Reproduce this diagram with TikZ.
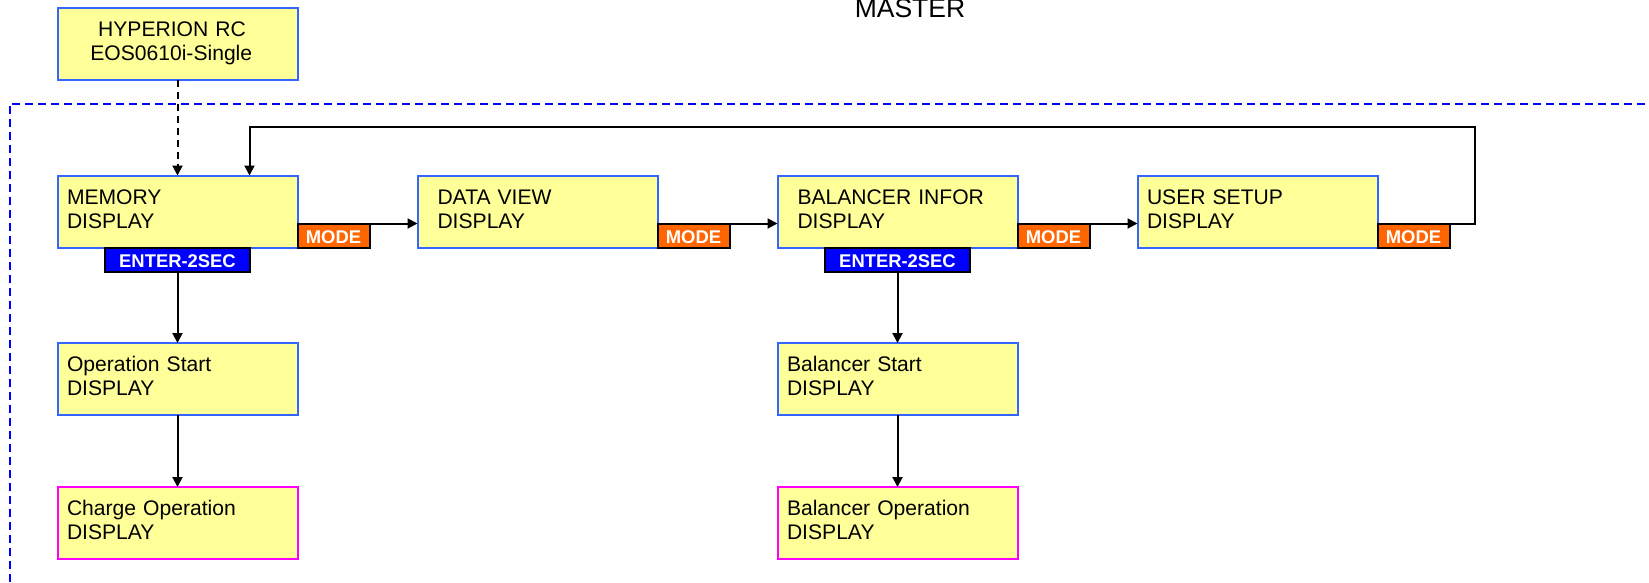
\documentclass[tikz,border=0pt]{standalone}
\usepackage{fontspec}
\setmainfont{Liberation Sans}
\usetikzlibrary{arrows.meta,calc}
\definecolor{boxfill}{HTML}{FFFF99}
\definecolor{boxline}{HTML}{3366FF}
\definecolor{opline}{HTML}{FF00FF}
\definecolor{modefill}{HTML}{FF6600}
\definecolor{enterfill}{HTML}{0000FF}
\tikzset{
  boxbase/.style={draw=boxline,fill=boxfill,line width=2pt,minimum height=72pt,
    inner ysep=0pt,outer sep=0pt,text height=15.4pt,text depth=30.4pt,
    font=\fontsize{21.1pt}{24pt}\selectfont},
  dispbox/.style={boxbase,minimum width=240pt,text width=221pt,inner xsep=9.5pt,align=left},
  widebox/.style={boxbase,minimum width=240pt,text width=200pt,inner xsep=20pt,align=left},
  opbox/.style={dispbox,draw=opline},
  topbox/.style={boxbase,minimum width=240pt,text width=228pt,inner xsep=6pt,align=center},
  modekey/.style={draw=black,fill=modefill,text=white,line width=2pt,minimum width=72pt,
    minimum height=24pt,inner sep=0pt,outer sep=0pt,text height=15pt,text depth=0pt,
    font=\fontsize{18.4pt}{20pt}\selectfont\bfseries},
  enterkey/.style={modekey,fill=enterfill,minimum width=145pt},
  link/.style={draw=black,line width=2pt,-{Triangle[length=10pt,width=10pt]}},
  dashlink/.style={link,dash pattern=on 7pt off 5pt},
  frameline/.style={draw=blue,line width=2pt,dash pattern=on 8pt off 5pt}
}
\begin{document}
\begin{tikzpicture}[x=1pt,y=-1pt]
\useasboundingbox (0,0) rectangle (1649,582);
\coordinate (fa) at (9.5,582);
\coordinate (fb) at (1649,103.5);
\draw[frameline] (fa) |- (fb);
\node[font=\fontsize{26.5pt}{28pt}\selectfont,inner sep=0pt,anchor=base] (master) at (910,17) {MASTER};
\node[topbox] (hyp) at (177.5,43.5) {\hspace*{-11pt}HYPERION RC\\\hspace*{-12.5pt}EOS0610i-Single};
\node[dispbox] (mem) at (177.5,211.5) {MEMORY\\DISPLAY};
\node[widebox] (dv) at (537.5,211.5) {DATA VIEW\\DISPLAY};
\node[widebox] (bal) at (897.5,211.5) {BALANCER INFOR\\DISPLAY};
\node[dispbox] (usr) at (1257.5,211.5) {USER SETUP\\DISPLAY};
\node[dispbox] (ops) at (177.5,379) {Operation Start\\DISPLAY};
\node[dispbox] (bals) at (897.5,379) {Balancer Start\\DISPLAY};
\node[opbox] (chg) at (177.5,523) {Charge Operation\\DISPLAY};
\node[opbox] (balo) at (897.5,523) {Balancer Operation\\DISPLAY};
\node[modekey,anchor=south west] (m1) at (mem.south east) {MODE};
\node[modekey,anchor=south west] (m2) at (dv.south east) {MODE};
\node[modekey,anchor=south west] (m3) at (bal.south east) {MODE};
\node[modekey,anchor=south west] (m4) at (usr.south east) {MODE};
\node[enterkey,anchor=north] (e1) at (mem.south) {ENTER-2SEC};
\node[enterkey,anchor=north] (e2) at (bal.south) {ENTER-2SEC};
\draw[dashlink] (hyp.south) -- (mem.north);
\draw[link] (m1.north east) -- (m1.north east -| dv.west);
\draw[link] (m2.north east) -- (m2.north east -| bal.west);
\draw[link] (m3.north east) -- (m3.north east -| usr.west);
\coordinate (loopr) at (1474.5,127);
\coordinate (loopl) at (249.5,175.5);
\draw[link] (m4.north east) -| (loopr) -| (loopl);
\draw[link] (e1.south) -- (ops.north);
\draw[link] (ops.south) -- (chg.north);
\draw[link] (e2.south) -- (bals.north);
\draw[link] (bals.south) -- (balo.north);
\end{tikzpicture}
\end{document}
